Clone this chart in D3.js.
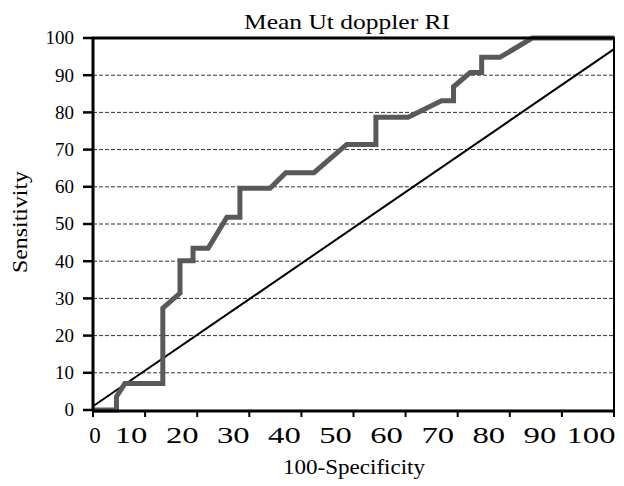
<!DOCTYPE html>
<html>
<head>
<meta charset="utf-8">
<script src="https://cdn.jsdelivr.net/npm/d3@7"></script>
<style>
  body { margin: 0; background: #fff; }
  svg text { font-family: 'Liberation Serif', Tinos, 'Times New Roman', Times, serif; fill: #000; }
</style>
</head>
<body>
<svg id="chart" width="624" height="486"></svg>
<script>
// ROC curve (100-specificity vs sensitivity)
const fpr = [0, 4.5, 4.5, 6.1, 13.4, 13.4, 16.7, 16.7, 19.2, 19.2, 22.1, 25.7, 28.2, 28.2, 34.0, 37.0, 42.4, 48.7, 54.3, 54.3, 60.5, 66.9, 69.2, 69.2, 72.4, 74.6, 74.6, 78.1, 84.3, 100];
const sens = [0, 0, 3.6, 7.1, 7.1, 27.4, 31.4, 40.1, 40.1, 43.5, 43.5, 51.8, 51.8, 59.6, 59.6, 63.8, 63.8, 71.4, 71.4, 78.7, 78.7, 83.1, 83.1, 86.9, 90.7, 90.7, 94.8, 94.8, 100, 100];

// reference line
const refX = [0, 100];
const refY = [1, 97];

const xTicks = [0, 10, 20, 30, 40, 50, 60, 70, 80, 90, 100];
const yTicks = [0, 10, 20, 30, 40, 50, 60, 70, 80, 90, 100];
const gridTicks = [10, 20, 30, 40, 50, 60, 70, 80, 90];

const title = "Mean Ut doppler RI";
const xTitle = "100-Specificity";
const yTitle = "Sensitivity";

const svg = d3.select("#chart");

const x = d3.scaleLinear().domain([0, 100]).range([93, 614]);
const y = d3.scaleLinear().domain([0, 100]).range([410, 38]);

// dashed gridlines
svg.append("g")
  .selectAll("line")
  .data(gridTicks)
  .join("line")
  .attr("x1", x(0))
  .attr("x2", x(100))
  .attr("y1", d => y(d))
  .attr("y2", d => y(d))
  .attr("stroke", "#333")
  .attr("stroke-width", 1)
  .attr("stroke-dasharray", "4,2");

// diagonal
const line = d3.line().x(d => x(d[0])).y(d => y(d[1]));

svg.append("path")
  .datum(refX.map((d, i) => [d, refY[i]]))
  .attr("d", line)
  .attr("fill", "none")
  .attr("stroke", "#000")
  .attr("stroke-width", 2);

// ROC curve
svg.append("path")
  .datum(fpr.map((d, i) => [d, sens[i]]))
  .attr("d", line)
  .attr("fill", "none")
  .attr("stroke", "#595959")
  .attr("stroke-width", 5)
  .attr("stroke-linejoin", "miter");

// frame
svg.append("line").attr("x1", x(0) - 1).attr("x2", x(100) + 1).attr("y1", y(100)).attr("y2", y(100))
  .attr("stroke", "#000").attr("stroke-width", 3);
svg.append("line").attr("x1", x(100)).attr("x2", x(100)).attr("y1", y(100)).attr("y2", y(0))
  .attr("stroke", "#000").attr("stroke-width", 2);
svg.append("line").attr("x1", x(0)).attr("x2", x(0)).attr("y1", y(100) - 1).attr("y2", y(0) + 1)
  .attr("stroke", "#000").attr("stroke-width", 3);
svg.append("line").attr("x1", x(0) - 1).attr("x2", x(100) + 1).attr("y1", y(0) + 1).attr("y2", y(0) + 1)
  .attr("stroke", "#000").attr("stroke-width", 3);

// y ticks + labels
const yAxis = svg.append("g");
yAxis.selectAll("line")
  .data(yTicks)
  .join("line")
  .attr("x1", x(0) - 10)
  .attr("x2", x(0))
  .attr("y1", d => y(d))
  .attr("y2", d => y(d))
  .attr("stroke", "#000")
  .attr("stroke-width", 2.5);

yAxis.selectAll("text")
  .data(yTicks)
  .join("text")
  .attr("x", x(0) - 19)
  .attr("y", d => y(d))
  .attr("dy", "0.34em")
  .attr("text-anchor", "end")
  .style("font-size", "19px")
  .text(d => d);

// x ticks + labels
const xAxis = svg.append("g");
xAxis.selectAll("line")
  .data(xTicks)
  .join("line")
  .attr("x1", d => x(d))
  .attr("x2", d => x(d))
  .attr("y1", y(0))
  .attr("y2", y(0) + 7)
  .attr("stroke", "#000")
  .attr("stroke-width", 2);

// labels sit a bit left of their ticks and are drawn wide, like the original
xAxis.selectAll("text")
  .data(xTicks)
  .join("text")
  .attr("transform", d => {
    const cx = d === 0 ? x(d) + 2 : x(d) - 13 - d * 0.1;
    const sx = d === 0 ? 1 : 1.42;
    return `translate(${cx},443) scale(${sx},1)`;
  })
  .attr("text-anchor", "middle")
  .style("font-size", "23px")
  .text(d => d);

// titles
svg.append("text")
  .attr("x", 347)
  .attr("y", 29)
  .attr("text-anchor", "middle")
  .attr("textLength", 206)
  .attr("lengthAdjust", "spacingAndGlyphs")
  .style("font-size", "21px")
  .text(title);

svg.append("text")
  .attr("x", 354)
  .attr("y", 474)
  .attr("text-anchor", "middle")
  .attr("textLength", 142)
  .attr("lengthAdjust", "spacingAndGlyphs")
  .style("font-size", "21px")
  .text(xTitle);

svg.append("text")
  .attr("transform", "translate(27,222) rotate(-90)")
  .attr("text-anchor", "middle")
  .attr("textLength", 102)
  .attr("lengthAdjust", "spacingAndGlyphs")
  .style("font-size", "21px")
  .text(yTitle);
</script>
</body>
</html>
